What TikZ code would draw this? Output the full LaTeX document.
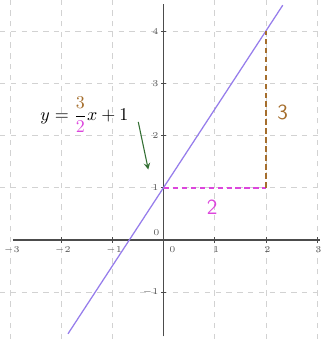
\documentclass[tikz,border=0pt]{standalone}
\usepackage{amsmath}
\usetikzlibrary{positioning}
\definecolor{graphcol}{RGB}{150,125,235}
\definecolor{runcol}{RGB}{220,70,220}
\definecolor{risecol}{RGB}{165,110,45}
\definecolor{arrowcol}{RGB}{50,110,50}
\tikzstyle{gridline} = [gray!35,dashed,line width=0.4pt]
\tikzstyle{axis} = [gray!60!black,line width=0.7pt]
\tikzstyle{ticklab} = [font=\sffamily\fontsize{4.5}{4.5}\selectfont,text=gray!70!black,inner sep=1pt]
\tikzstyle{arrow} = [-stealth,arrowcol,line width=0.6pt]
\tikzstyle{bignum} = [font=\sffamily\large]
\tikzstyle{slope} = [line width=0.9pt,dash pattern=on 3pt off 2pt]

\begin{document}
\begin{tikzpicture}[y=1.02cm]
    \useasboundingbox (-3.2,-1.9) rectangle (3.1,4.6);
    % grid
    \foreach \x in {-3,-2,-1,1,2,3}
        \draw [gridline] (\x,-1.9) -- (\x,4.6);
    \foreach \y in {-1,1,2,3,4}
        \draw [gridline] (-3.2,\y) -- (3.1,\y);

    % axes
    \draw [axis] (-2.95,0) -- (3.05,0);
    \draw [axis] (0,-1.85) -- (0,4.52);
    \foreach \x in {-2,-1,1,2,3}
        \draw [axis,line width=0.4pt] (\x,0.05) -- (\x,-0.05);
    \foreach \y in {-1,1,2,3,4}
        \draw [axis,line width=0.4pt] (-0.05,\y) -- (0.05,\y);
    \foreach \x/\t in {-3/-3,-2/-2,-1/-1,1/1,2/2,3/3}
        \node [ticklab,anchor=north] at (\x+0.03,-0.08) {$\t$};
    \node [ticklab,anchor=north] at (0.17,-0.08) {$0$};
    \foreach \y/\t in {-1/-1,1/1,2/2,3/3,4/4}
        \node [ticklab,anchor=east] at (-0.06,\y) {$\t$};
    \node [ticklab,anchor=south east] at (-0.04,0.04) {$0$};

    % graph
    \draw [graphcol,line width=0.7pt] (-1.87,-1.8) -- (2.33,4.5);

    % slope triangle
    \coordinate (p0) at (0,1);
    \coordinate (p1) at (2,1);
    \coordinate (p2) at (2,4);
    \draw [slope,draw=runcol] (p0) -- (p1);
    \draw [slope,draw=risecol] (p1) -- (p2);
    \node [bignum,text=runcol] (run) at (0.95,0.62) {2};
    \node [bignum,text=risecol] (rise) at (2.33,2.45) {3};

    % equation
    \node [] (eq) at (-1.55,2.4) {$y=\dfrac{\textcolor{risecol}{3}}{\textcolor{runcol}{2}}x+1$};
    \coordinate (tip) at (-0.3,1.35);
    \draw [arrow] ([xshift=2pt,yshift=-4pt]eq.east) -- (tip);
\end{tikzpicture}
\end{document}
